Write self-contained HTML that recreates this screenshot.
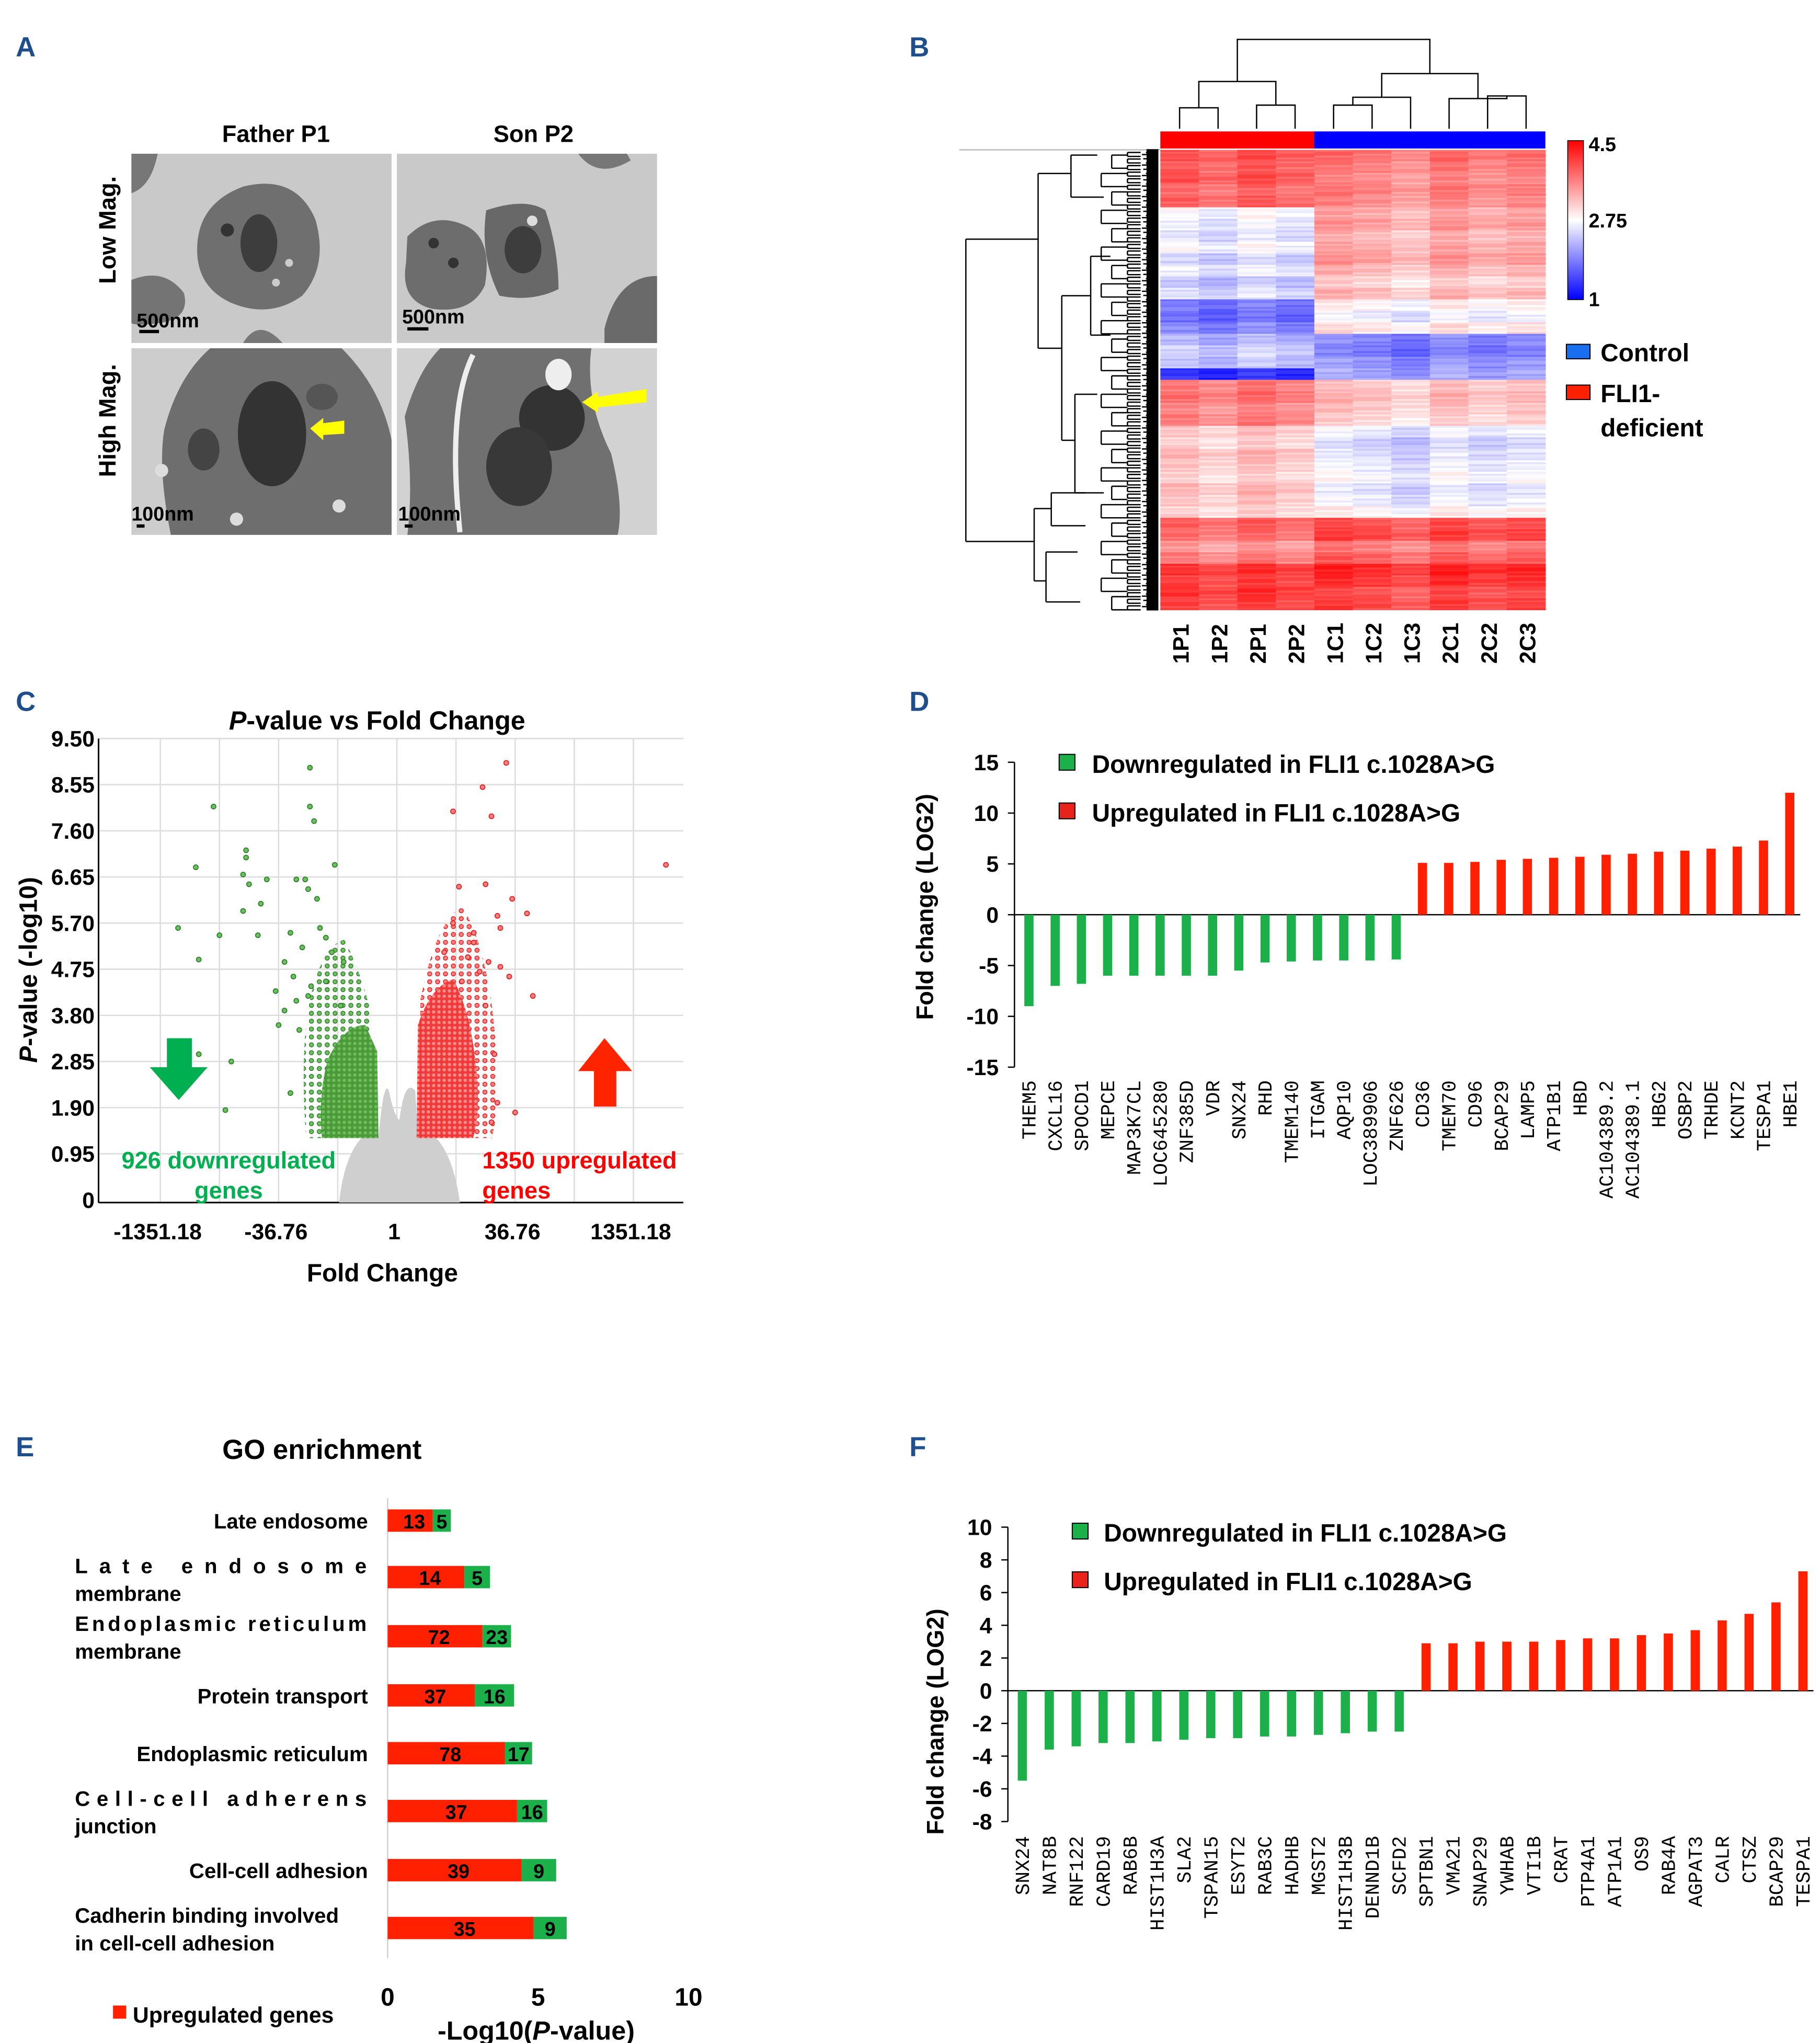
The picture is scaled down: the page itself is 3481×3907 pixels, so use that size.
<!DOCTYPE html>
<html><head><meta charset="utf-8"><style>
html,body{margin:0;padding:0;background:#fff}
svg{display:block}
text{font-family:"Liberation Sans",sans-serif;font-weight:bold}
.mono{font-family:"Liberation Mono",monospace;font-weight:normal}
</style></head><body>
<svg id="fig" xmlns="http://www.w3.org/2000/svg" width="3481" height="3907" viewBox="0 0 1385 1554.5">
<defs>
<pattern id="gdots" width="4" height="4" patternUnits="userSpaceOnUse"><rect width="4" height="4" fill="#4a9a3c"/><circle cx="2" cy="2" r="1.3" fill="#6cbf58"/></pattern>
<pattern id="gdots2" width="6" height="6" patternUnits="userSpaceOnUse"><circle cx="3" cy="3" r="1.6" fill="#6cc25a" stroke="#2e7d2e" stroke-width="0.6"/></pattern>
<pattern id="rdots" width="4" height="4" patternUnits="userSpaceOnUse"><rect width="4" height="4" fill="#f03a3a"/><circle cx="2" cy="2" r="1.3" fill="#ff8a8a"/></pattern>
<pattern id="rdots2" width="6" height="6" patternUnits="userSpaceOnUse"><circle cx="3" cy="3" r="1.6" fill="#ff8080" stroke="#e02020" stroke-width="0.6"/></pattern>
</defs>

<!-- PANEL A -->
<g>
<text x="12" y="43" font-size="21" fill="#1f4e8c">A</text>
<text x="210" y="108" font-size="18" text-anchor="middle">Father P1</text>
<text x="406" y="108" font-size="18" text-anchor="middle">Son P2</text>
<text transform="translate(88,175) rotate(-90)" font-size="18" text-anchor="middle">Low Mag.</text>
<text transform="translate(88,320) rotate(-90)" font-size="18" text-anchor="middle">High Mag.</text>
<g>
<rect x="100" y="117" width="198" height="144" fill="#c9c9c9"/>
<path d="M100,117 h20 q-5,25 -20,30z" fill="#777"/>
<path d="M185,142 q40,-10 55,25 q10,35 -10,58 q-25,18 -55,5 q-25,-12 -25,-40 q0,-35 35,-48z" fill="#6f6f6f"/>
<ellipse cx="197" cy="185" rx="14" ry="22" fill="#3d3d3d"/>
<circle cx="173" cy="175" r="5" fill="#333"/><circle cx="220" cy="200" r="3" fill="#ccc"/><circle cx="210" cy="215" r="3" fill="#ccc"/>
<path d="M100,213 q25,-10 40,10 q5,20 -20,23 q-15,2 -20,0z" fill="#747474"/>
<path d="M185,261 q12,-20 30,0z" fill="#777"/>
<text x="104" y="249" font-size="15">500nm</text>
<rect x="106" y="251" width="15" height="2.5" fill="#000"/>
</g>
<g>
<rect x="302" y="117" width="198" height="144" fill="#c9c9c9"/>
<path d="M310,180 q20,-20 45,-8 q20,10 14,45 q-10,22 -40,18 q-25,-6 -20,-35z" fill="#6d6d6d"/>
<path d="M370,160 q30,-10 45,0 q10,30 10,60 q-20,10 -45,5 q-15,-30 -10,-65z" fill="#686868"/>
<ellipse cx="398" cy="190" rx="14" ry="18" fill="#3d3d3d"/>
<circle cx="330" cy="185" r="4" fill="#333"/><circle cx="345" cy="200" r="4" fill="#333"/><circle cx="405" cy="168" r="4" fill="#ddd"/>
<path d="M460,250 q10,-40 40,-40 v51 h-40z" fill="#6a6a6a"/>
<path d="M440,117 q15,20 40,5 l-3,-5z" fill="#777"/>
<text x="306" y="246" font-size="15">500nm</text>
<rect x="310" y="249" width="16" height="2.5" fill="#000"/>
</g>
<g>
<rect x="100" y="265" width="198" height="142" fill="#cdcdcd"/>
<path d="M160,265 h100 q30,30 38,70 v72 h-168 q-10,-50 -5,-80 q10,-40 35,-62z" fill="#6e6e6e"/>
<ellipse cx="207" cy="330" rx="26" ry="40" fill="#333"/>
<ellipse cx="155" cy="342" rx="12" ry="16" fill="#444"/>
<ellipse cx="245" cy="302" rx="12" ry="10" fill="#555"/>
<circle cx="180" cy="395" r="5" fill="#ddd"/><circle cx="258" cy="385" r="5" fill="#ddd"/><circle cx="123" cy="358" r="5" fill="#ddd"/>
<polygon points="236,326 246,318 246,322 262,320 262,330 246,331 246,335" fill="#ffff00"/>
<text x="100" y="396" font-size="15">100nm</text>
<rect x="104" y="399" width="6" height="2.5" fill="#000"/>
</g>
<g>
<rect x="302" y="265" width="198" height="142" fill="#d2d2d2"/>
<path d="M335,265 h115 q-5,40 15,80 q10,40 5,62 h-160 q5,-40 -2,-90 q10,-35 27,-52z" fill="#707070"/>
<path d="M360,270 q-20,40 -10,135" stroke="#eee" stroke-width="4" fill="none"/>
<ellipse cx="420" cy="318" rx="25" ry="25" fill="#333"/>
<ellipse cx="395" cy="355" rx="25" ry="30" fill="#383838"/>
<ellipse cx="425" cy="285" rx="10" ry="12" fill="#eee"/>
<polygon points="443,306 455,298 455,302 492,296 492,306 455,310 455,314" fill="#ffff00"/>
<text x="303" y="396" font-size="15">100nm</text>
<rect x="308" y="399" width="6" height="2.5" fill="#000"/>
</g>
</g>

<!-- PANEL B -->
<g id="panelB">
<text x="692" y="43" font-size="21" fill="#1f4e8c">B</text>
<line x1="730" y1="114" x2="883" y2="114" stroke="#bbb" stroke-width="1"/>
<rect x="883" y="100" width="117" height="13" fill="#ff0000"/>
<rect x="1000" y="100" width="176" height="13" fill="#0000ff"/>
<g id="heat"></g>
<g id="coldendro" stroke="#000" stroke-width="1" fill="none"></g>
<g id="rowdendro" stroke="#000" stroke-width="1" fill="none"></g>
<defs><linearGradient id="cbar" x1="0" y1="0" x2="0" y2="1"><stop offset="0" stop-color="#ff0000"/><stop offset="0.5" stop-color="#ffffff"/><stop offset="1" stop-color="#0000ff"/></linearGradient></defs>
<rect x="1193" y="107" width="12" height="121" fill="url(#cbar)" stroke="#000" stroke-width="0.6"/>
<text x="1209" y="115" font-size="15">4.5</text>
<text x="1209" y="173" font-size="15">2.75</text>
<text x="1209" y="233" font-size="15">1</text>
<rect x="1192" y="262" width="18" height="11" fill="#1a6ff0" stroke="#000" stroke-width="0.8"/>
<text x="1218" y="275" font-size="19">Control</text>
<rect x="1192" y="293" width="18" height="11" fill="#ff2000" stroke="#000" stroke-width="0.8"/>
<text x="1218" y="306" font-size="19">FLI1-</text>
<text x="1218" y="332" font-size="19">deficient</text>
<g id="collabels"></g>
</g>

<!-- PANEL C -->
<g id="panelC">
<text x="12" y="541" font-size="21" fill="#1f4e8c">C</text>
<text x="287" y="555" font-size="20" text-anchor="middle"><tspan font-style="italic">P</tspan>-value vs Fold Change</text>
<text transform="translate(28,738) rotate(-90)" font-size="19" text-anchor="middle"><tspan font-style="italic">P</tspan>-value (-log10)</text>
<text x="291" y="975" font-size="19" text-anchor="middle">Fold Change</text>
<g id="volc"></g>
</g>

<!-- PANEL D -->
<g id="panelD">
<text x="692" y="541" font-size="21" fill="#1f4e8c">D</text>
<text transform="translate(710,690) rotate(-90)" font-size="18" text-anchor="middle">Fold change (LOG2)</text>
<rect x="806" y="574" width="12" height="12" fill="#1bb04a" stroke="#000" stroke-width="0.8"/>
<text x="831" y="588" font-size="19">Downregulated in FLI1 c.1028A&gt;G</text>
<rect x="806" y="611" width="12" height="12" fill="#e8231c" stroke="#000" stroke-width="0.8"/>
<text x="831" y="625" font-size="19">Upregulated in FLI1 c.1028A&gt;G</text>
<g id="chartD"></g>
</g>

<!-- PANEL E -->
<g id="panelE">
<text x="12" y="1108" font-size="21" fill="#1f4e8c">E</text>
<text x="245" y="1110" font-size="21" text-anchor="middle">GO enrichment</text>
<g id="chartE"></g>
<text x="408" y="1552" font-size="20" text-anchor="middle">-Log10(<tspan font-style="italic">P</tspan>-value)</text>
<rect x="86" y="1526" width="10" height="10" fill="#ff2000"/>
<text x="101" y="1539" font-size="17">Upregulated genes</text>
</g>

<!-- PANEL F -->
<g id="panelF">
<text x="692" y="1108" font-size="21" fill="#1f4e8c">F</text>
<text transform="translate(718,1310) rotate(-90)" font-size="18" text-anchor="middle">Fold change (LOG2)</text>
<rect x="816" y="1159" width="12" height="12" fill="#1bb04a" stroke="#000" stroke-width="0.8"/>
<text x="840" y="1173" font-size="19">Downregulated in FLI1 c.1028A&gt;G</text>
<rect x="816" y="1196" width="12" height="12" fill="#e8231c" stroke="#000" stroke-width="0.8"/>
<text x="840" y="1210" font-size="19">Upregulated in FLI1 c.1028A&gt;G</text>
<g id="chartF"></g>
</g>
</svg>

<script>
var NS="http://www.w3.org/2000/svg";
function mk(tag,attrs,parent,txt){var e=document.createElementNS(NS,tag);for(var k in attrs)e.setAttribute(k,attrs[k]);if(txt!==undefined)e.textContent=txt;parent.appendChild(e);return e;}

/* ===== Heatmap data ===== */
var hmSamples=["1P1","1P2","2P1","2P2","1C1","1C2","1C3","2C1","2C2","2C3"];
var hmPatient=[3.9,3.8,3.9,3.7,3.8,2.7,2.6,2.5,2.7,2.4,2.6,2.3,2.5,1.8,1.7,1.9,2.2,2.4,2.3,1.3,3.6,3.7,3.5,3.6,3.1,3.0,3.2,3.1,3.0,3.2,3.1,3.0,3.8,3.7,3.4,3.6,4.1,4.0,4.1,4.0];
var hmControl=[3.7,3.6,3.5,3.6,3.5,3.3,3.4,3.2,3.3,3.4,3.2,3.0,3.2,2.8,2.6,2.9,1.9,1.8,2.0,2.1,3.1,3.2,3.1,3.0,2.6,2.4,2.5,2.6,2.7,2.5,2.6,2.8,3.9,4.0,3.6,3.8,4.2,4.1,3.9,4.0];
var hmColShift=[0.05,-0.1,0.1,-0.05,0.1,0,-0.15,0.1,-0.05,0.05];
var hmRowShift=[0.1,-0.1,0.05,0,-0.05,0.1];

(function(){
 var g=document.getElementById('heat');
 var x0=883,w=293,y0=114,h=350,nr=hmPatient.length,nc=hmSamples.length;
 var cw=w/nc, sub=6, rh=h/nr/sub;
 function col(v){var t=Math.max(0,Math.min(1,(v-1)/3.5));var r,gg,b;
  if(t<0.5){var s=t/0.5;r=Math.round(255*s);gg=r;b=255;}else{var s2=(t-0.5)/0.5;r=255;gg=Math.round(255*(1-s2));b=gg;}
  return "rgb("+r+","+gg+","+b+")";}
 for(var i=0;i<nr;i++){for(var k=0;k<sub;k++){for(var c=0;c<nc;c++){
   var base=c<4?hmPatient[i]:hmControl[i];
   var v=base+hmColShift[c]+hmRowShift[(k+c+i)%6];
   var r=mk('rect',{x:(x0+c*cw).toFixed(2),y:(y0+(i*sub+k)*rh).toFixed(2),width:(cw+0.3).toFixed(2),height:(rh+0.3).toFixed(2),fill:col(v)},g);
   
   
 }}}
 var cl=document.getElementById('collabels');
 for(var c2=0;c2<nc;c2++){
  var t=mk('text',{transform:"translate("+(x0+(c2+0.5)*cw+7)+",505) rotate(-90)","font-size":"17"},cl,hmSamples[c2]);
  
  
 }
 var cd=document.getElementById('coldendro');
 function cx(i){return x0+(i+0.5)*cw;}
 function U(xa,ya,xb,yb,top){mk('path',{d:"M"+xa+","+ya+"V"+top+"H"+xb+"V"+yb},cd);}
 var b=98;
 U(cx(0),b,cx(1),b,82);U(cx(2),b,cx(3),b,80);U((cx(0)+cx(1))/2,82,(cx(2)+cx(3))/2,80,62);
 U(cx(4),b,cx(5),b,80);U((cx(4)+cx(5))/2,80,cx(6),b,74);
 U(cx(8),b,cx(9),b,73);U(cx(7),b,(cx(8)+cx(9))/2,73,75);
 U(((cx(4)+cx(5))/2+cx(6))/2,74,(cx(7)+(cx(8)+cx(9))/2)/2,75,56);
 U(((cx(0)+cx(1))/2+(cx(2)+cx(3))/2)/2,62,((((cx(4)+cx(5))/2+cx(6))/2)+((cx(7)+(cx(8)+cx(9))/2)/2))/2,56,30);
 var rd=document.getElementById('rowdendro');
 function L(d){mk('path',{d:d},rd);}
 // top-level
 L("M735,182V412");L("M735,182H790");L("M735,412H787");
 L("M790,132V265");L("M790,132H815");L("M790,265H808");
 L("M815,118V150");L("M815,118H835");L("M815,150H840");
 L("M808,225V335");L("M808,225H830");L("M808,335H818");
 L("M830,195V255");L("M830,195H845");L("M830,255H845");
 L("M818,300V375");L("M818,300H835");L("M818,375H840");
 L("M787,387V442");L("M787,387H800");L("M787,442H796");
 L("M800,375V400");L("M800,375H826");L("M800,400H826");
 L("M796,420V458");L("M796,420H820");L("M796,458H822");
 // mid level groups
 for(var yy=118;yy<460;yy+=14){var xm=838+((Math.round(yy*3))%4)*4;L("M"+xm+","+yy+"V"+(yy+10)+"M"+xm+","+yy+"H858M"+xm+","+(yy+10)+"H858");}
 for(var y2=116;y2<462;y2+=5){L("M858,"+y2+"V"+(y2+3)+"M858,"+y2+"H868M858,"+(y2+3)+"H868");}
 for(var y=116;y<463;y+=1.6){var len=4+((Math.round(y*7))%8);L("M"+(880-len)+","+y.toFixed(1)+"H881");}
 mk('rect',{x:873,y:114,width:8,height:350,fill:"#000"},rd);
})();

/* ===== Volcano data ===== */
var vxTickVals=[-4,-2,0,2,4];
var vxTickLabels=["-1351.18","-36.76","1","36.76","1351.18"];
var vyTickVals=[9.5,8.55,7.6,6.65,5.7,4.75,3.8,2.85,1.9,0.95,0];
var vyTickLabels=["9.50","8.55","7.60","6.65","5.70","4.75","3.80","2.85","1.90","0.95","0"];
var vGreenFC=[-1.47,-3.1,-1.47,-1.4,-2.55,-2.55,-3.4,-1.05,-2.6,-2.2,-1.7,-1.55,-2.5,-1.5,-1.35,-2.3,-2.6,-3.7,-3.0,-2.35,-1.8,-1.2,-3.35,-1.9,-3.35,-2.8,-2.9,-1.8,-1.6,-1.3,-1.1,-0.9,-1.75,-1.45,-2.05,-0.95,-1.9,-1.7,-1.5,-1.2,-2.0,-1.65];
var vGreenP=[8.9,8.1,8.1,7.8,7.2,7.05,6.85,6.9,6.7,6.6,6.6,6.6,6.5,6.4,6.2,6.1,5.95,5.6,5.45,5.45,5.5,5.4,4.95,4.9,3.0,2.85,1.85,2.2,5.2,5.6,5.1,4.9,4.6,4.4,4.3,4.0,3.9,4.1,4.2,4.5,3.6,3.5];
var vRedFC=[1.85,1.45,0.95,1.6,4.55,1.05,1.5,1.95,2.2,1.7,1.75,1.55,1.75,1.9,1.65,1.7,2.0,1.6,0.95,1.3,0.8,1.2,1.4,1.1,2.3,1.5,1.3];
var vRedP=[9.0,8.5,8.0,7.9,6.9,6.45,6.5,6.2,5.9,5.85,5.6,4.9,4.8,4.6,3.0,2.0,1.8,1.6,5.7,5.5,5.1,5.0,4.7,4.5,4.2,4.0,5.3];
(function(){
 var g=document.getElementById('volc');
 var L=75,R=520,T=562,B=915;
 function X(v){return 302+v*45;} function Y(p){return 913-p*36.95;}
 for(var v=-4;v<=4;v++){mk('line',{x1:X(v),y1:T,x2:X(v),y2:B,stroke:"#dcdcdc","stroke-width":1},g);}
 for(var i=0;i<vyTickVals.length;i++){var yy=Y(vyTickVals[i]);
  if(vyTickVals[i]>0)mk('line',{x1:L,y1:yy,x2:R,y2:yy,stroke:"#dcdcdc","stroke-width":1},g);
  var t=mk('text',{x:72,y:yy+6,"font-size":"17","text-anchor":"end"},g,vyTickLabels[i]);
  
  }
 for(var j=0;j<vxTickVals.length;j++){
  var t2=mk('text',{x:X(vxTickVals[j])-2,y:943,"font-size":"17","text-anchor":"middle"},g,vxTickLabels[j]);
  
  }
 mk('line',{x1:L,y1:T,x2:L,y2:B,stroke:"#000","stroke-width":1.2},g);
 mk('line',{x1:L,y1:B,x2:R,y2:B,stroke:"#000","stroke-width":1.2},g);
 var gc=mk('path',{d:"M258,915 Q262,880 275,866 L288,866 Q292,820 296,830 Q300,850 304,852 Q308,820 316,830 L318,866 L332,866 Q345,880 350,915Z",fill:"#cfcfcf"},g);
 
 
 var gs=mk('path',{d:"M233,866 Q228,800 236,760 Q245,720 262,715 Q275,740 282,770 L287,866Z",fill:"url(#gdots2)"},g);
 
 
 var gd=mk('path',{d:"M245,866 Q242,830 250,805 Q262,780 278,780 L287,800 L288,866Z",fill:"url(#gdots)"},g);
 
 
 var rs=mk('path',{d:"M318,866 L320,760 Q332,700 352,690 Q370,720 376,780 Q382,840 374,866Z",fill:"url(#rdots2)"},g);
 
 
 var rdn=mk('path',{d:"M317,866 L318,780 Q328,750 345,745 Q358,770 362,810 Q366,845 360,866Z",fill:"url(#rdots)"},g);
 
 
 for(var a=0;a<vGreenFC.length;a++){
  var c=mk('circle',{cx:X(vGreenFC[a]),cy:Y(vGreenP[a]),r:1.8,fill:"#6cc25a",stroke:"#2e7d2e","stroke-width":0.7},g);
  
  }
 for(var b=0;b<vRedFC.length;b++){
  var c2=mk('circle',{cx:X(vRedFC[b]),cy:Y(vRedP[b]),r:1.8,fill:"#ff8080",stroke:"#e02020","stroke-width":0.7},g);
  
  }
 var ad=mk('polygon',{points:"127,790 146,790 146,812 158,812 136,837 114,812 127,812",fill:"#00b050"},g);
 
 
 var au=mk('polygon',{points:"452,842 469,842 469,815 481,815 460,790 440,815 452,815",fill:"#ff2400"},g);
 
 
 var t3=mk('text',{x:174,y:889,"font-size":"18","text-anchor":"middle",fill:"#00b050"},g,"926 downregulated");
 
 
 var t4=mk('text',{x:174,y:912,"font-size":"18","text-anchor":"middle",fill:"#00b050"},g,"genes");
 
 
 var t5=mk('text',{x:367,y:889,"font-size":"18",fill:"#ff0000"},g,"1350 upregulated");
 
 
 var t6=mk('text',{x:367,y:912,"font-size":"18",fill:"#ff0000"},g,"genes");
 
 
})();

/* ===== Panel D data ===== */
var dGenes=["THEM5","CXCL16","SPOCD1","MEPCE","MAP3K7CL","LOC645280","ZNF385D","VDR","SNX24","RHD","TMEM140","ITGAM","AQP10","LOC389906","ZNF626","CD36","TMEM70","CD96","BCAP29","LAMP5","ATP1B1","HBD","AC104389.2","AC104389.1","HBG2","OSBP2","TRHDE","KCNT2","TESPA1","HBE1"];
var dValues=[-9.0,-7.0,-6.8,-6.0,-6.0,-6.0,-6.0,-6.0,-5.5,-4.7,-4.6,-4.5,-4.5,-4.5,-4.4,5.1,5.1,5.2,5.4,5.5,5.6,5.7,5.9,6.0,6.2,6.3,6.5,6.7,7.3,12.0];
var dTicks=[15,10,5,0,-5,-10,-15];

/* ===== Panel F data ===== */
var fGenes=["SNX24","NAT8B","RNF122","CARD19","RAB6B","HIST1H3A","SLA2","TSPAN15","ESYT2","RAB3C","HADHB","MGST2","HIST1H3B","DENND1B","SCFD2","SPTBN1","VMA21","SNAP29","YWHAB","VTI1B","CRAT","PTP4A1","ATP1A1","OS9","RAB4A","AGPAT3","CALR","CTSZ","BCAP29","TESPA1"];
var fValues=[-5.5,-3.6,-3.4,-3.2,-3.2,-3.1,-3.0,-2.9,-2.9,-2.8,-2.8,-2.7,-2.6,-2.5,-2.5,2.9,2.9,3.0,3.0,3.0,3.1,3.2,3.2,3.4,3.5,3.7,4.3,4.7,5.4,7.3];
var fTicks=[10,8,6,4,2,0,-2,-4,-6,-8];

function barChart(gid,genes,vals,ticks,ax,yTop,yBot,vmax,vmin,x0,x1,bw,lblY,name){
 var g=document.getElementById(gid);
 function Y(v){return yTop+(vmax-v)/(vmax-vmin)*(yBot-yTop);}
 var step=(x1-x0)/(genes.length-1);
 mk('line',{x1:ax,y1:yTop,x2:ax,y2:yBot,stroke:"#000","stroke-width":1},g);
 mk('line',{x1:ax,y1:Y(0),x2:x1+8,y2:Y(0),stroke:"#000","stroke-width":1},g);
 for(var i=0;i<ticks.length;i++){var yy=Y(ticks[i]);
  mk('line',{x1:ax-5,y1:yy,x2:ax,y2:yy,stroke:"#000","stroke-width":1},g);
  var t=mk('text',{x:ax-12,y:yy+6,"font-size":"17","text-anchor":"end"},g,String(ticks[i]));
  
  }
 for(var k=0;k<genes.length;k++){
  var v=vals[k],cx=x0+k*step;
  var r=mk('rect',{x:cx-bw/2,y:Math.min(Y(v),Y(0)),width:bw,height:Math.abs(Y(v)-Y(0)),fill:v<0?"#1bb04a":"#ff2000"},g);
  
  
  var t2=mk('text',{"class":"mono",transform:"translate("+(cx+5)+","+lblY+") rotate(-90)","font-size":"15","text-anchor":"end"},g,genes[k]);
  
  
 }
}
barChart('chartD',dGenes,dValues,dTicks,772,580,812,15,-15,783,1362,7,822,'d');
barChart('chartF',fGenes,fValues,fTicks,767,1162,1386,10,-8,778,1372,7,1397,'f');

/* ===== Panel E data ===== */
var goUp=[1.5,2.55,3.15,2.9,3.9,4.3,4.45,4.85];
var goDown=[0.6,0.85,0.95,1.3,0.9,1.0,1.15,1.1];
var goUpN=["13","14","72","37","78","37","39","35"];
var goDownN=["5","5","23","16","17","16","9","9"];
var goXTicks=[0,5,10];
(function(){
 var g=document.getElementById('chartE');
 function X(v){return 295+v*22.9;}
 var rows=[1157,1200,1245,1290,1334,1378,1423,1467];
 mk('line',{x1:295,y1:1140,x2:295,y2:1490,stroke:"#d0d0d0","stroke-width":1},g);
 for(var i=0;i<goUp.length;i++){
  var y=rows[i];
  var r=mk('rect',{x:X(0),y:y-8.5,width:X(goUp[i])-X(0),height:17,fill:"#ff2000"},g);
  
  
  var r2=mk('rect',{x:X(goUp[i]),y:y-8.5,width:X(goUp[i]+goDown[i])-X(goUp[i]),height:17,fill:"#1bb04a"},g);
  
  
  var t=mk('text',{x:(X(0)+X(goUp[i]))/2+3,y:y+6,"font-size":"15","text-anchor":"middle"},g,goUpN[i]);
  
  
  var t2=mk('text',{x:(X(goUp[i])+X(goUp[i]+goDown[i]))/2,y:y+6,"font-size":"15","text-anchor":"middle"},g,goDownN[i]);
  
  
 }
 for(var j=0;j<goXTicks.length;j++){
  var tt=mk('text',{x:X(goXTicks[j]),y:1526,"font-size":"19","text-anchor":"middle"},g,String(goXTicks[j]));
  
  }
 var labs=[["Late endosome",280,1163,"end",0],["Late endosome",57,1197,"start",222],["membrane",57,1218,"start",0],["Endoplasmic reticulum",57,1241,"start",222],["membrane",57,1262,"start",0],["Protein transport",280,1296,"end",0],["Endoplasmic reticulum",280,1340,"end",0],["Cell-cell adherens",57,1374,"start",222],["junction",57,1395,"start",0],["Cell-cell adhesion",280,1429,"end",0],["Cadherin binding involved",57,1463,"start",0],["in cell-cell adhesion",57,1484,"start",0]];
 for(var k=0;k<labs.length;k++){var a={x:labs[k][1],y:labs[k][2],"font-size":"16","text-anchor":labs[k][3]};
  if(labs[k][4])a.textLength=labs[k][4];
  var tl=mk('text',a,g,labs[k][0]);
  
  }
})();
</script>
</body></html>
